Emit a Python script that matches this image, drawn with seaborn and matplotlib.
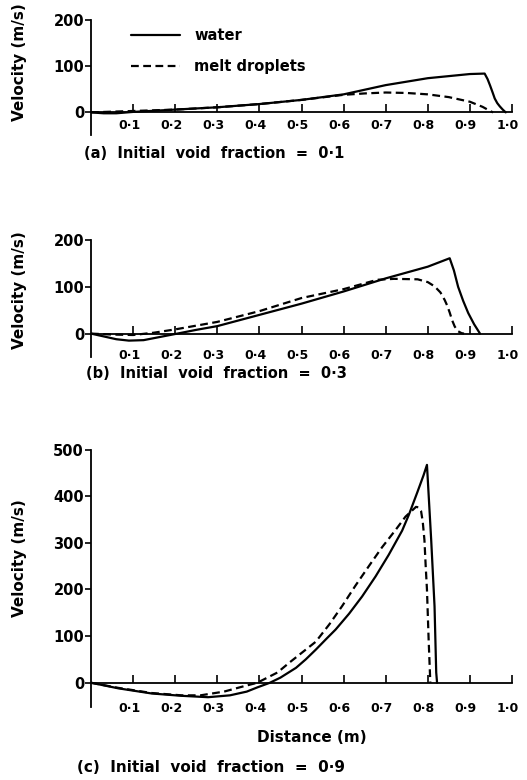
import matplotlib
matplotlib.use("Agg")
import matplotlib.pyplot as plt
import matplotlib.transforms as mtransforms
import seaborn as sns
import pandas as pd

# ---------------- data ----------------
a_x_water = [0, 0.03, 0.06, 0.1, 0.2, 0.3, 0.4, 0.5, 0.6, 0.7, 0.8, 0.9, 0.935, 0.942, 0.948, 0.954,
             0.959, 0.965, 0.971, 0.978, 0.985]
a_water   = [0, -2, -2, 1, 6, 11, 18, 27, 39, 59, 74, 83, 84, 72, 58, 43,
             30, 20, 13, 6, 0]
a_x_drop  = [0, 0.1, 0.2, 0.3, 0.4, 0.5, 0.6, 0.65, 0.7, 0.75, 0.8, 0.85, 0.9, 0.93, 0.95, 0.955]
a_drop    = [0, 3, 6, 11, 18, 27, 38, 41, 43, 42, 39, 33, 23, 12, 2, 0]

b_x_water = [0, 0.03, 0.06, 0.09, 0.125, 0.165, 0.205, 0.25, 0.3, 0.4, 0.5, 0.6, 0.7, 0.8, 0.852,
             0.862, 0.872, 0.884, 0.896, 0.91, 0.924]
b_water   = [0, -6, -12, -15, -14, -7, 0, 8, 16, 40, 64, 90, 118, 143, 161,
             135, 100, 70, 44, 20, 0]
b_x_drop  = [0, 0.05, 0.1, 0.15, 0.2, 0.3, 0.4, 0.5, 0.6, 0.68, 0.72, 0.776, 0.8, 0.816, 0.83,
             0.84, 0.846, 0.852, 0.858, 0.864, 0.872, 0.88, 0.886]
b_drop    = [0, -2, -3, 2, 9, 25, 48, 76, 95, 115, 117, 116, 110, 101, 88,
             72, 60, 45, 28, 15, 5, 1, 0]

c_x_water = [0, 0.065, 0.144, 0.215, 0.278, 0.33, 0.37, 0.395, 0.425, 0.45, 0.487, 0.51, 0.534, 0.56,
             0.581, 0.613, 0.644, 0.676, 0.707, 0.739, 0.755, 0.775, 0.79, 0.798, 0.808, 0.816, 0.82, 0.822]
c_water   = [0, -12, -23, -28, -31, -27, -19, -10, 0, 11, 32, 50, 71, 95,
             114, 148, 185, 228, 274, 326, 360, 408, 445, 467, 307, 164, 22, 0]
c_x_drop  = [0, 0.065, 0.144, 0.215, 0.26, 0.316, 0.365, 0.395, 0.443, 0.471, 0.534, 0.566, 0.597, 0.628,
             0.66, 0.691, 0.723, 0.747, 0.772, 0.778, 0.784, 0.788, 0.792, 0.795, 0.798, 0.802, 0.806]
c_drop    = [0, -11, -22, -27, -27, -19, -7, 0, 22, 43, 88, 125, 165, 208,
             250, 290, 327, 356, 377, 376, 368, 345, 306, 250, 200, 92, 0]

x_ticks = [0.1, 0.2, 0.3, 0.4, 0.5, 0.6, 0.7, 0.8, 0.9, 1.0]
x_tick_labels = ["0·1", "0·2", "0·3", "0·4", "0·5", "0·6", "0·7", "0·8", "0·9", "1·0"]
yticks_ab = [0, 100, 200]
yticks_c = [0, 100, 200, 300, 400, 500]
captions = ["(a)  Initial  void  fraction  =  0·1",
            "(b)  Initial  void  fraction  =  0·3",
            "(c)  Initial  void  fraction  =  0·9"]
series_names = ["water", "melt droplets"]

# ---------------- style ----------------
sns.set_theme(style="ticks")
plt.rcParams['font.family'] = ['DejaVu Sans']
plt.rcParams['font.weight'] = 'bold'
plt.rcParams['axes.labelweight'] = 'bold'
plt.rcParams['text.color'] = 'black'
plt.rcParams['axes.labelcolor'] = 'black'
plt.rcParams['xtick.color'] = 'black'
plt.rcParams['ytick.color'] = 'black'

W, H = 527, 780
fig = plt.figure(figsize=(W / 100, H / 100), dpi=100)

def px_axes(left, right, top, bottom):
    return fig.add_axes([left / W, 1 - bottom / H, (right - left) / W, (bottom - top) / H])

ax_a = px_axes(91, 512, 20, 135)
ax_b = px_axes(91, 512, 240, 357)
ax_c = px_axes(91, 512, 449.5, 707)

panels = [
    (ax_a, a_x_water, a_water, a_x_drop, a_drop, (-49, 200), yticks_ab, 0.635, 5),
    (ax_b, b_x_water, b_water, b_x_drop, b_drop, (-50, 200), yticks_ab, 0.57, 11),
    (ax_c, c_x_water, c_water, c_x_drop, c_drop, (-52, 500), yticks_c, 0.578, 14),
]

shift = mtransforms.ScaledTranslation(-4 / 100, 0, fig.dpi_scale_trans)

for ax, xw, yw, xd, yd, ylim, yt, ylab_y, xpad in panels:
    dfw = pd.DataFrame({"x": xw, "v": yw})
    dfd = pd.DataFrame({"x": xd, "v": yd})
    sns.lineplot(data=dfw, x="x", y="v", ax=ax, color="black", lw=1.6,
                 estimator=None, sort=False, label=series_names[0])
    sns.lineplot(data=dfd, x="x", y="v", ax=ax, color="black", lw=1.6,
                 estimator=None, sort=False, label=series_names[1],
                 dashes=False, linestyle=(0, (3.5, 2)))
    ax.set_xlim(0, 1.0)
    ax.set_ylim(*ylim)
    ax.spines['top'].set_visible(False)
    ax.spines['right'].set_visible(False)
    ax.spines['bottom'].set_position(('data', 0))
    for s in ['left', 'bottom']:
        ax.spines[s].set_linewidth(1.3)
        ax.spines[s].set_color('black')
    ax.set_xticks(x_ticks)
    ax.set_xticklabels(x_tick_labels)
    ax.set_yticks(yt)
    ax.tick_params(axis='x', direction='in', length=6, width=1.2, pad=xpad,
                   labelsize=9, colors='black')
    ax.tick_params(axis='y', direction='out', length=4, width=1.2, pad=1,
                   labelsize=10.5, colors='black')
    for lab in ax.get_xticklabels():
        lab.set_transform(lab.get_transform() + shift)
    ax.set_xlabel("")
    ax.set_ylabel("Velocity (m/s)", fontsize=11, fontweight='bold', color='black')
    ax.yaxis.set_label_coords(-0.152, ylab_y)
    ax.set_facecolor('white')
    lg = ax.get_legend()
    if lg is not None:
        lg.remove()

leg = ax_a.legend(loc='center left', bbox_to_anchor=(0.065, 0.73), frameon=False,
                  handlelength=3.3, handletextpad=1.0, labelspacing=1.1,
                  prop={'size': 10.5, 'weight': 'bold'}, labelcolor='black')

fig.text(312 / W, 1 - 737 / H, "Distance (m)", ha='center', va='center',
         fontsize=11, fontweight='bold', color='black')

fig.text(84 / W, 1 - 153 / H, captions[0], ha='left', va='center', fontsize=10.5,
         fontweight='bold', color='black')
fig.text(86 / W, 1 - 373 / H, captions[1], ha='left', va='center', fontsize=10.5,
         fontweight='bold', color='black')
fig.text(77 / W, 1 - 767 / H, captions[2], ha='left', va='center', fontsize=11,
         fontweight='bold', color='black')

fig.savefig("out.png", dpi=100, facecolor='white')
